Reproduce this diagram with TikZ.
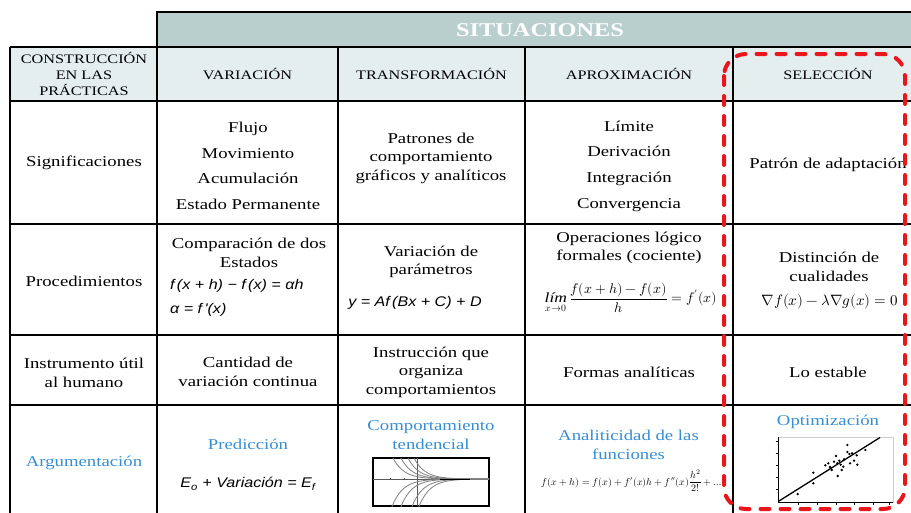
\documentclass[tikz,border=0pt]{standalone}
\usepackage{fontspec}
\usepackage{amsmath}
\usepackage{unicode-math}
\setmainfont{Liberation Serif}[FakeStretch=1.25]
\newfontfamily\eqfont{Liberation Sans}[FakeStretch=1.15]
\definecolor{bannerteal}{RGB}{185,207,206}
\definecolor{headfill}{RGB}{229,238,238}
\definecolor{argblue}{RGB}{55,141,211}
\definecolor{selred}{RGB}{234,22,28}
\begin{document}
\begin{tikzpicture}
[x=1pt,y=-1pt,
  gridline/.style={line width=2.5pt,line cap=square},
  headtext/.style={align=center,inner sep=0pt,font=\fontsize{13}{16}\selectfont},
  celltext/.style={align=center,inner sep=0pt,font=\fontsize{15}{18.5}\selectfont},
  listtext/.style={celltext,font=\fontsize{15}{25.7}\selectfont},
  argtext/.style={celltext,text=argblue},
  eqtext/.style={inner sep=0pt,font=\eqfont\itshape\fontsize{14}{16}\selectfont},
  mathtext/.style={inner sep=0pt,font=\fontsize{14}{16}\selectfont}]
\useasboundingbox (0,0) rectangle (911,512);
%% fills
\fill[bannerteal] (157,12) rectangle (923,47);
\fill[headfill] (10,47) rectangle (923,101);
%% table lines
\draw[gridline] (157,520) -- (157,12) -- (923,12);
\foreach \y in {47,101,224,335,405} {
  \draw[gridline] (10,\y) -- (923,\y);
}
\foreach \x in {10,338,525,733} {
  \draw[gridline] (\x,47) -- (\x,520);
}
%% banner and header row
\node (banner) at (540,30) [text=white,font=\bfseries\fontsize{19.5}{20}\selectfont] {SITUACIONES};
\node (hdconstr) at (84,74) [headtext] {CONSTRUCCIÓN\\EN LAS\\PRÁCTICAS};
\foreach \nodename/\x/\txt in {hdvar/247.5/VARIACIÓN, hdtrans/431.5/TRANSFORMACIÓN,
    hdaprox/629/APROXIMACIÓN, hdsel/828/SELECCIÓN} {
  \node (\nodename) at (\x,74) [headtext] {\txt};
}
%% significaciones
\node (signame) at (84,163) [celltext] {Significaciones};
\node (sigvar) at (248,166) [listtext] {Flujo\\Movimiento\\Acumulación\\Estado Permanente};
\node (sigtrans) at (431,158) [celltext] {Patrones de\\comportamiento\\gráficos y analíticos};
\node (sigaprox) at (629,166) [listtext] {Límite\\Derivación\\Integración\\Convergencia};
\node (sigsel) at (828,165) [celltext] {Patrón de adaptación};
%% procedimientos
\node (procname) at (84,281) [celltext] {Procedimientos};
\node (procvar) at (249,253) [celltext] {Comparación de dos\\Estados};
\node (procvareqa) at (170,286) [eqtext,anchor=west] {f\,(x + h) − f\,(x) = αh};
\node (procvareqb) at (170,310) [eqtext,anchor=west] {α = f\,'(x)};
\node (proctrans) at (431,262) [celltext] {Variación de\\parámetros};
\node (proctranseq) at (415,303) [eqtext] {y = Af\,(Bx + C) + D};
\node (procaprox) at (629,248) [celltext] {Operaciones lógico\\formales (cociente)};
\node (procaproxeq) at (631,298) [mathtext]
  {$\displaystyle\mathop{\text{\itshape lím}}\limits_{x\to0}\frac{f(x+h)-f(x)}{h}=f'(x)$};
\node (procsel) at (829,267) [celltext] {Distinción de\\cualidades};
\node (procseleq) at (830,302) [mathtext,font=\fontsize{15}{17}\selectfont] {$\nabla f(x)-\lambda\nabla g(x)=0$};
%% instrumento
\node (instname) at (84,373) [celltext] {Instrumento útil\\al humano};
\node (instvar) at (248,372) [celltext] {Cantidad de\\variación continua};
\node (insttrans) at (431,372) [celltext] {Instrucción que\\organiza\\comportamientos};
\node (instaprox) at (629,372) [celltext] {Formas analíticas};
\node (instsel) at (828,372) [celltext] {Lo estable};
%% argumentacion
\node (argname) at (84,463) [argtext] {Argumentación};
\node (argvar) at (248,444) [argtext] {Predicción};
\node (argvareq) at (248,484) [eqtext] {E\textsubscript{o} + Variación = E\textsubscript{f}};
\node (argtrans) at (431,435) [argtext] {Comportamiento\\tendencial};
\node (argaprox) at (628.5,445) [argtext] {Analiticidad de las\\funciones};
\node (argaproxeq) at (633,481) [mathtext,font=\fontsize{10}{12}\selectfont]
  {$f(x+h)=f(x)+f'(x)h+f''(x)\dfrac{h^2}{2!}+\dots$};
\node (argsel) at (828,422) [argtext] {Optimización};
%% tendency plot
\draw[line width=1.3pt,fill=white] (373,458) rectangle (489,506);
\begin{scope}
  \clip (373,458) rectangle (489,506);
  \draw[gray!70!black,line width=0.6pt] (373,479) -- (489,479);
  \draw[gray!70!black,line width=0.6pt] (417,458) -- (417,506);
  \foreach \tx in {390,404} {
    \draw[gray!70!black,line width=0.5pt] (\tx,478) -- (\tx,480);
  }
  \foreach \xs/\xa in {393/388, 401/396, 408/403, 414/409} {
    \draw[gray,line width=0.8pt] plot[domain=\xa:489,samples=40,smooth] (\x,{479-21*exp(-(\x-\xs)/11)});
  }
  \foreach \xs/\xa in {395/390, 404/399, 415/410, 422/417} {
    \draw[gray,line width=0.8pt] plot[domain=\xa:489,samples=40,smooth] (\x,{479+21*exp(-(\x-\xs)/11)});
  }
  \draw[line width=1pt] (440,479) -- (470,479);
\end{scope}
%% scatter plot
\draw[gray!40,line width=0.4pt] (778,437) rectangle (893,502);
\draw[line width=0.8pt] (778,437) -- (778,502) -- (893,502);
\foreach \ty in {441,453,465,477,489} {
  \draw[line width=0.6pt] (775.5,\ty) -- (778,\ty);
}
\foreach \tx in {798,817,836,854,873,889} {
  \draw[line width=0.6pt] (\tx,502) -- (\tx,504.5);
}
\draw[line width=1.3pt] (779,501) -- (880,437.5);
\foreach \px/\py in {797.7/494, 813.3/472.7, 813.3/483.3, 825.3/465.3, 828.3/463.3, 830/467,
    831.7/470, 834/461.7, 836/456, 837.3/463.3, 837.7/476, 839.3/460.7, 840.7/464.7,
    841.7/470, 844/459.3, 847.3/445, 847.3/452, 849.3/454, 850/463.3, 852/453.3,
    854/460.7, 857.3/464.7, 865.3/450, 856.7/455.3, 843.3/466.7} {
  \fill (\px,\py) circle (1.3pt);
}
%% selection frame
\draw[selred,line width=4pt,line cap=round,dash pattern=on 9pt off 11pt,rounded corners=22pt]
  (724,54) rectangle (905,509);
\end{tikzpicture}
\end{document}
